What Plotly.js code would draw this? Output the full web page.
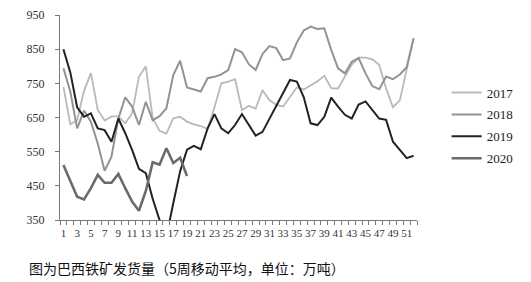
<!DOCTYPE html>
<html>
<head>
<meta charset="utf-8">
<script src="https://cdn.plot.ly/plotly-3.0.1.min.js"></script>
<style>
html,body{margin:0;padding:0;background:#fff;}
#chart{width:531px;height:282px;}
</style>
</head>
<body>
<div id="chart"></div>
<script>
// week numbers (categories)
const weeks = [1,2,3,4,5,6,7,8,9,10,11,12,13,14,15,16,17,18,19,20,21,22,23,24,25,26,
  27,28,29,30,31,32,33,34,35,36,37,38,39,40,41,42,43,44,45,46,47,48,49,50,51,52];
const weeks2020 = [1,2,3,4,5,6,7,8,9,10,11,12,13,14,15,16,17,18,19];

// 5-week moving average shipments (10k tonnes)
const y2017 = [740,630,642,728,780,672,641,653,653,633,662,769,800,648,611,603,648,652,638,630,625,616,680,750,755,762,
  672,684,676,730,701,687,682,711,738,732,745,756,772,736,735,772,805,825,825,820,804,735,680,700,793,882];
const y2018 = [794,726,618,670,638,574,494,535,647,709,682,628,696,642,654,677,774,816,738,732,726,765,769,776,789,850,
  841,806,789,836,859,853,818,823,870,905,916,909,911,848,794,779,813,824,779,742,733,770,762,776,797,882];
const y2019 = [850,782,680,652,662,618,613,579,647,604,555,500,487,412,350,301,399,493,556,567,557,618,660,618,604,628,
  660,628,597,608,647,685,721,760,755,710,633,628,652,708,682,658,647,688,697,672,647,643,579,555,531,538];
const y2020 = [511,462,418,410,443,482,459,459,485,443,404,377,435,519,512,560,517,532,479];

const seriesNames = ['2017','2018','2019','2020'];
const yTicks = [350,450,550,650,750,850,950];
const xTickVals = [1,3,5,7,9,11,13,15,17,19,21,23,25,27,29,31,33,35,37,39,41,43,45,47,49,51];
const caption = '图为巴西铁矿发货量（5周移动平均，单位：万吨）';

const traces = [
  {x: weeks, y: y2017, name: seriesNames[0], legendgroup: 'a', type: 'scatter', mode: 'lines',
   line: {color: '#b9b9b9', width: 1.8}},
  {x: weeks, y: y2018, name: seriesNames[1], legendgroup: 'b', type: 'scatter', mode: 'lines',
   line: {color: '#939393', width: 2}},
  {x: weeks, y: y2019, name: seriesNames[2], legendgroup: 'c', type: 'scatter', mode: 'lines',
   line: {color: '#222222', width: 2}},
  {x: weeks2020, y: y2020, name: seriesNames[3], legendgroup: 'd', type: 'scatter', mode: 'lines',
   line: {color: '#6b6b6b', width: 2.6}}
];

const serif = 'Liberation Serif, Times New Roman, serif';

const layout = {
  width: 531, height: 282,
  margin: {l: 60, r: 87, t: 15, b: 62},
  paper_bgcolor: '#fff', plot_bgcolor: '#fff',
  showlegend: true,
  legend: {
    x: 1.083, xanchor: 'left', y: 0.695, yanchor: 'top',
    font: {family: serif, size: 13, color: '#222'},
    itemwidth: 30, traceorder: 'grouped', tracegroupgap: 2, bgcolor: 'rgba(0,0,0,0)'
  },
  xaxis: {
    range: [0.5, 52.5], showgrid: false, zeroline: false,
    showline: true, linecolor: '#777', linewidth: 1,
    tickmode: 'array', tickvals: xTickVals, ticks: '', tickangle: 0,
    ticklabelstandoff: 3,
    tickfont: {family: serif, size: 11, color: '#333'},
    minor: {tick0: 0.5, dtick: 1, ticks: 'outside', ticklen: 4, tickcolor: '#777', tickwidth: 1, showgrid: false}
  },
  yaxis: {
    range: [350, 950], showgrid: false, zeroline: false,
    showline: true, linecolor: '#777', linewidth: 1,
    tickmode: 'array', tickvals: yTicks,
    ticks: 'outside', ticklen: 4, tickcolor: '#777',
    ticklabelstandoff: 8,
    tickfont: {family: serif, size: 12, color: '#333'}
  },
  annotations: [{
    text: caption, xref: 'paper', yref: 'paper',
    x: -0.092, xanchor: 'left', y: -0.235, yanchor: 'middle',
    showarrow: false,
    font: {family: 'Noto Sans CJK SC', size: 14, color: '#111'}
  }]
};

Plotly.newPlot('chart', traces, layout, {staticPlot: true, displayModeBar: false});
</script>
</body>
</html>
